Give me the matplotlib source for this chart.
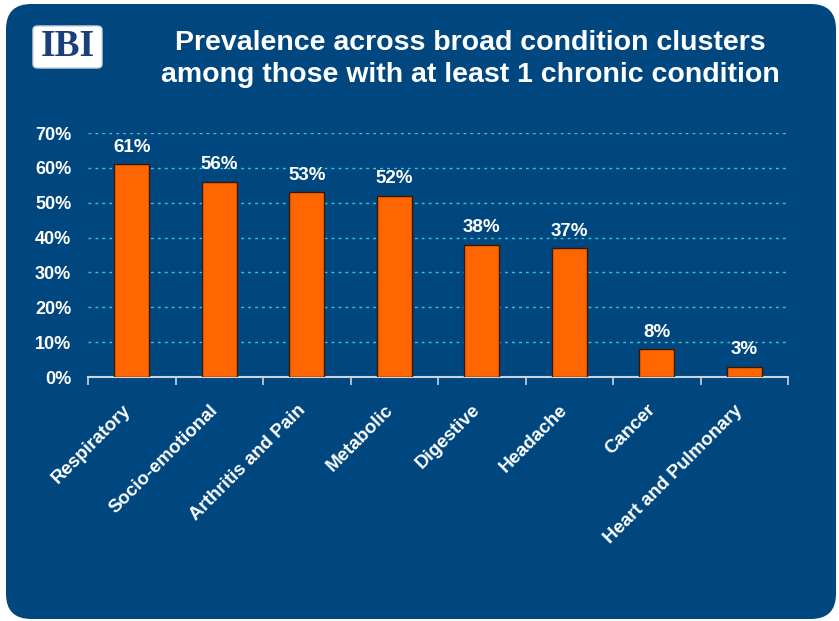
import matplotlib
matplotlib.use("Agg")
from matplotlib import pyplot as plt
from matplotlib.patches import FancyBboxPatch
from matplotlib.ticker import PercentFormatter
from matplotlib.transforms import ScaledTranslation

categories = ["Respiratory", "Socio-emotional", "Arthritis and Pain", "Metabolic",
              "Digestive", "Headache", "Cancer", "Heart and Pulmonary"]
values = [61, 56, 53, 52, 38, 37, 8, 3]
labels = ["61%", "56%", "53%", "52%", "38%", "37%", "8%", "3%"]
yticks = [0, 10, 20, 30, 40, 50, 60, 70]

BG = "#00477F"
plt.rcParams["font.family"] = ["Liberation Sans", "DejaVu Sans"]

fig = plt.figure(figsize=(8.39, 6.21), dpi=100)
fig.patch.set_facecolor("white")

# rounded dark blue panel behind everything
W, H = 839, 621
panel = FancyBboxPatch((6 / W, 2 / H), 836 / W - 6 / W, 617 / H - 2 / H,
                       boxstyle="round,pad=0,rounding_size=0.03",
                       transform=fig.transFigure, facecolor=BG, edgecolor="none",
                       mutation_aspect=W / H, zorder=-5)
fig.patches.append(panel)

# IBI logo box
logo = FancyBboxPatch((33 / W, 1 - 68 / H), 69 / W, 42 / H,
                      boxstyle="round,pad=0,rounding_size=0.006",
                      transform=fig.transFigure, facecolor="white", edgecolor="#c8d4e0",
                      linewidth=1, zorder=-4)
fig.patches.append(logo)
fig.text(67.5 / W, 1 - 47 / H, "IBI", family=["Liberation Serif", "DejaVu Serif"],
         fontsize=27, fontweight="bold", color="#1b3f7a", ha="center", va="center")

fig.text(470 / W, 1 - 59 / H,
         "Prevalence across broad condition clusters\namong those with at least 1 chronic condition",
         color="white", fontsize=20.5, fontweight="bold", ha="center", va="center",
         linespacing=1.32)

ax = fig.add_axes([88 / W, 1 - 377 / H, 700 / W, 244 / H])
ax.set_facecolor("none")
ax.set_zorder(2)

x = range(len(categories))
ax.bar(x, values, width=0.4, color="#FF6600", edgecolor="#3a1500", linewidth=1, zorder=3)

for xi, v, lab in zip(x, values, labels):
    ax.annotate(lab, (xi, v), xytext=(0, 6), textcoords="offset points",
                color="white", fontsize=13.5, fontweight="bold",
                ha="center", va="bottom")

ax.set_xlim(-0.5, len(categories) - 0.5)
ax.set_ylim(0, 70)
ax.set_yticks(yticks)
ax.yaxis.set_major_formatter(PercentFormatter(decimals=0))
ax.yaxis.grid(True, color="#33CCCC", linestyle=(0, (2, 3)), linewidth=1)
ax.set_axisbelow(True)

ax.set_xticks([i for i in x])
ax.set_xticklabels(categories, rotation=45, ha="right", va="center", rotation_mode="anchor")
ax.set_xticks([i - 0.5 for i in range(len(categories) + 1)], minor=True)
ax.tick_params(axis="x", which="major", length=0, pad=22, colors="white", labelsize=13.5)
ax.tick_params(axis="x", which="minor", length=6, width=1.2, color="#c8d4e0", direction="out")
ax.tick_params(axis="y", length=0, colors="white", labelsize=13, pad=12)
shift = ScaledTranslation(-4 / 100, 0, fig.dpi_scale_trans)
for lab in ax.get_xticklabels():
    lab.set_transform(lab.get_transform() + shift)
for lab in ax.get_xticklabels() + ax.get_yticklabels():
    lab.set_fontweight("bold")

for side in ["top", "right", "left"]:
    ax.spines[side].set_visible(False)
ax.spines["bottom"].set_color("#c8d4e0")
ax.spines["bottom"].set_linewidth(1.5)

fig.savefig("out.png", dpi=100, facecolor="white")
